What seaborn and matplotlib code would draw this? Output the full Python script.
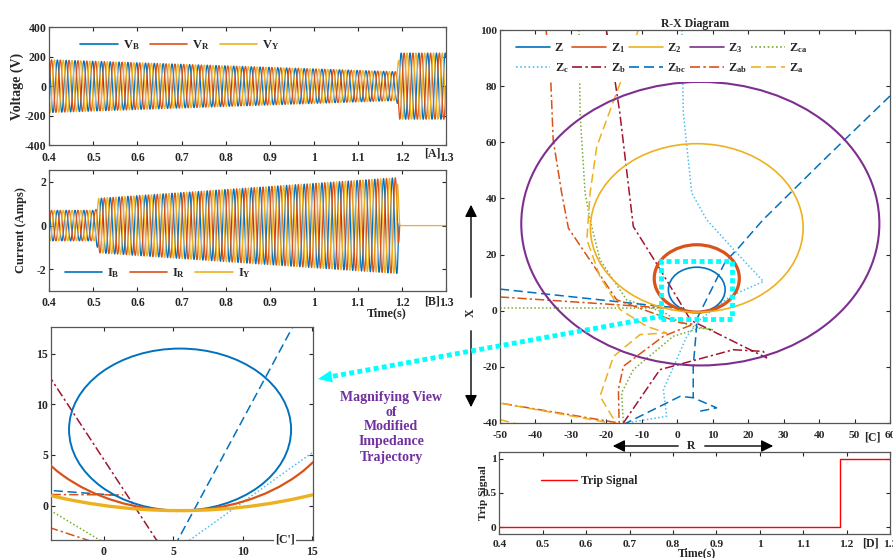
import numpy as np
import pandas as pd
import matplotlib
matplotlib.use("Agg")
import matplotlib.pyplot as plt
import seaborn as sns
from matplotlib.lines import Line2D
from matplotlib.patches import Circle, Rectangle, Polygon, FancyArrowPatch

W, H = 893, 558

# ---------------- data ----------------
freq_hz = 50
phase_names = ["B", "R", "Y"]
phase_deg = [120, 0, -120]
phase_colors = ["#0072BD", "#D95319", "#EDB120"]

v_env_t = [0.40, 1.188, 1.195, 1.30]
v_env_amp = [180, 98, 225, 225]
i_env_t = [0.40, 0.505, 0.512, 1.190, 1.195, 1.30]
i_env_amp = [0.70, 0.70, 1.25, 2.20, 0.0, 0.0]
i_end_t = [1.195, 1.195, 1.30]   # B, R traces stop at the trip; Y stays drawn at 0

trip_t = [0.40, 1.185, 1.185, 1.30]
trip_v = [0, 0, 1, 1]

time_ticks = [0.4, 0.5, 0.6, 0.7, 0.8, 0.9, 1.0, 1.1, 1.2, 1.3]
time_labels = ["0.4", "0.5", "0.6", "0.7", "0.8", "0.9", "1", "1.1", "1.2", "1.3"]

circle_names = ["Z", "Z1", "Z2", "Z3"]
circle_cx = [5.5, 5.5, 5.5, 6.5]
circle_cy = [7.5, 11.5, 29.5, 31.0]
circle_r = [8.0, 12.0, 30.0, 50.5]
circle_colors = ["#0072BD", "#D95319", "#EDB120", "#7E2F8E"]

zca_x = [-27.7, -27.4, -26.0, -24.6, -21.8, -14.3, -3.7, -0.3, 4.0, 10.2, 6.4, -1.1, -12.4, -15.7, -15.2]
zca_y = [100, 70, 41.9, 32.4, 18.1, 3.9, -0.6, -3.4, -5.5, -6.8, -6.2, -9.1, -21.0, -29.3, -40.0]
zca2_x = [-50, -4.0]
zca2_y = [1.0, 1.0]

zc_x = [1.3, 1.7, 4.1, 8.3, 17.7, 24.3, 15.1, 6.2, 2.7, -3.9, -3.0, -14.3]
zc_y = [100, 70.4, 41.9, 32.4, 19.3, 10.4, 5.3, -3.4, -9.1, -28.1, -37.6, -40.0]

zb_x = [-20.0, -17.6, -16.2, -12.4, -5.8, 3.8, 25.2, 24.3, 15.8, -4.9, -15.2]
zb_y = [100, 82.2, 70.4, 30.0, 16.7, -3.4, -16.8, -14.5, -13.9, -21.0, -40.0]

zbc1_x = [-50, -4.9, 1.0]
zbc1_y = [7.7, 1.6, 1.0]
zbc2_x = [60, 42.2, 24.2, 17.0, 13.6, 5.3, 5.5, 4.5, 4.5]
zbc2_y = [76.5, 54.8, 32.4, 22.0, 17.6, -3.5, -5.0, -19.8, -31.0]
zbc3_x = [-15.3, 0.8, 4.5, 11.1, 6.4]
zbc3_y = [-40.6, -30.5, -31.0, -34.6, -35.8]

zab1_x = [-37.0, -35.7, -35.0, -32.6, -30.7, -17.1, -9.6, 0.8, 4.5, -3.9, -15.2, -16.6, -16.4, -50]
zab1_y = [100, 82.8, 60.9, 41.9, 29.4, 3.9, 0.4, -4.3, -4.8, -9.1, -19.8, -28.1, -40.0, -32.9]
zab2_x = [-50, -4.9, 1.4]
zab2_y = [4.9, 1.1, 1.05]

za1_x = [-11.0, -15.7, -22.7, -24.6, -25.5, -21.8, -16.1, -8.6, -3.0, -10.5, -18.0, -21.8, -17.1, -50]
za1_y = [100, 82.5, 58.5, 41.9, 25.3, 12.2, 0.4, -5.6, -7.9, -8.5, -16.3, -30.5, -40.4, -32.9]
za2_x = [-50, -44.4]
za2_y = [-38.8, -40.6]

rx_xticks = [-50, -40, -30, -20, -10, 0, 10, 20, 30, 40, 50, 60]
rx_yticks = [-40, -20, 0, 20, 40, 60, 80, 100]

# ---------------- style ----------------
sns.set_style("ticks")
plt.rcParams["font.family"] = ["Liberation Serif", "DejaVu Serif"]
plt.rcParams["font.weight"] = "bold"
plt.rcParams["axes.labelweight"] = "bold"
plt.rcParams["axes.titleweight"] = "bold"
plt.rcParams["axes.unicode_minus"] = False
plt.rcParams["mathtext.fontset"] = "custom"
plt.rcParams["mathtext.rm"] = "Liberation Serif:bold"
plt.rcParams["mathtext.it"] = "Liberation Serif:bold"
plt.rcParams["mathtext.bf"] = "Liberation Serif:bold"
plt.rcParams["mathtext.default"] = "rm"

fig = plt.figure(figsize=(W / 100, H / 100), dpi=100)
fig.patch.set_facecolor("white")


def add_ax(l, t, r, b):
    return fig.add_axes([l / W, 1 - b / H, (r - l) / W, (b - t) / H])


def matlab(ax, fs=8.5, xpad=4.5):
    ax.tick_params(direction="in", top=True, right=True, length=3, width=0.8,
                   colors="#262626", labelsize=fs, pad=2)
    ax.tick_params(axis="x", pad=xpad)
    for s in ax.spines.values():
        s.set_color("#555555")
        s.set_linewidth(0.9)
    ax.set_xlabel("")
    ax.set_ylabel("")


def fpx(x, y):
    return (x / W, 1 - y / H)


def ftext(x, y, s, **kw):
    fig.text(x / W, 1 - y / H, s, **kw)


# ---------------- waveforms ----------------
t = np.arange(0.4, 1.3001, 0.0002)
rows_v, rows_i = [], []
for name, deg, t_end in zip(phase_names, phase_deg, i_end_t):
    carrier = np.sin(2 * np.pi * freq_hz * t + np.deg2rad(deg))
    rows_v.append(pd.DataFrame({"t": t, "val": np.interp(t, v_env_t, v_env_amp) * carrier, "phase": name}))
    keep = t <= t_end
    rows_i.append(pd.DataFrame({"t": t[keep],
                                "val": (np.interp(t, i_env_t, i_env_amp) * carrier)[keep],
                                "phase": name}))
dfV = pd.concat(rows_v, ignore_index=True)
dfI = pd.concat(rows_i, ignore_index=True)
pal = dict(zip(phase_names, phase_colors))

# Panel A
axA = add_ax(49.3, 27.3, 446, 145)
sns.lineplot(data=dfV, x="t", y="val", hue="phase", palette=pal, ax=axA,
             estimator=None, sort=False, legend=False, lw=0.9)
matlab(axA, xpad=5)
axA.set_xlim(0.4, 1.3)
axA.set_ylim(-400, 400)
axA.set_yticks([-400, -200, 0, 200, 400])
axA.set_xticks(time_ticks)
axA.set_xticklabels(time_labels)
axA.set_ylabel("Voltage (V)", fontsize=10, labelpad=1)
hA = [Line2D([], [], color=c, lw=1.2) for c in phase_colors]
axA.legend(hA, ["V$_B$", "V$_R$", "V$_Y$"], loc="upper left", ncol=3, frameon=False,
           fontsize=9, handlelength=3.0, handletextpad=0.4, columnspacing=0.8,
           bbox_to_anchor=(0.05, 1.0))

# Panel B
axB = add_ax(49.3, 170, 446, 291)
sns.lineplot(data=dfI, x="t", y="val", hue="phase", palette=pal, ax=axB,
             estimator=None, sort=False, legend=False, lw=0.9)
matlab(axB, xpad=4.5)
axB.set_xlim(0.4, 1.3)
axB.set_ylim(-3, 2.55)
axB.set_yticks([-2, 0, 2])
axB.set_xticks(time_ticks)
axB.set_xticklabels(time_labels)
axB.set_ylabel("Current (Amps)", fontsize=9, labelpad=7)
axB.legend(hA, ["I$_B$", "I$_R$", "I$_Y$"], loc="lower left", ncol=3, frameon=False,
           fontsize=9, handlelength=3.0, handletextpad=0.4, columnspacing=0.8,
           bbox_to_anchor=(0.01, 0.0))

# ---------------- impedance trajectories ----------------
dashed = (0, (6, 3))
dashdot = (0, (6, 2, 1.5, 2))
dotted = (0, (1, 1.5))
traj = [
    (zca_x, zca_y, "#77AC30", dotted), (zca2_x, zca2_y, "#77AC30", dotted),
    (zc_x, zc_y, "#4DBEEE", dotted),
    (zb_x, zb_y, "#A2142F", dashdot),
    (zbc1_x, zbc1_y, "#0072BD", dashed), (zbc2_x, zbc2_y, "#0072BD", dashed),
    (zbc3_x, zbc3_y, "#0072BD", dashed),
    (zab1_x, zab1_y, "#D95319", dashdot), (zab2_x, zab2_y, "#D95319", dashdot),
    (za1_x, za1_y, "#EDB120", dashed), (za2_x, za2_y, "#EDB120", dashed),
]


def draw_rx(ax, circ_lw, traj_lw):
    for cx, cy, r, c, lw in zip(circle_cx, circle_cy, circle_r, circle_colors, circ_lw):
        ax.add_patch(Circle((cx, cy), r, fill=False, edgecolor=c, lw=lw, zorder=3))
    for xs, ys, c, ls in traj:
        sns.lineplot(x=xs, y=ys, ax=ax, sort=False, estimator=None, color=c,
                     linestyle=ls, lw=traj_lw, legend=False)


# Panel C
axC = add_ax(500, 30, 890, 423)
draw_rx(axC, [1.2, 2.3, 1.2, 1.5], 1.1)
matlab(axC, fs=8.2, xpad=6)
axC.set_xlim(-50, 60)
axC.set_ylim(-40, 100)
axC.set_xticks(rx_xticks)
axC.set_yticks(rx_yticks)
axC.set_title("R-X Diagram", fontsize=8.5, pad=2)
axC.add_patch(Rectangle((-4.5, -2.8), 19.9, 20.6, fill=False, edgecolor="#00FFFF",
                        lw=3.5, linestyle=(0, (1, 0.7)), zorder=6))
leg_names = ["Z", "Z$_1$", "Z$_2$", "Z$_3$", "Z$_{ca}$", "Z$_c$", "Z$_b$", "Z$_{bc}$", "Z$_{ab}$", "Z$_a$"]
leg_handles = [Line2D([], [], color=c, lw=1.2) for c in circle_colors] + [
    Line2D([], [], color="#77AC30", lw=1.2, linestyle=dotted),
    Line2D([], [], color="#4DBEEE", lw=1.2, linestyle=dotted),
    Line2D([], [], color="#A2142F", lw=1.2, linestyle=dashdot),
    Line2D([], [], color="#0072BD", lw=1.2, linestyle=dashed),
    Line2D([], [], color="#D95319", lw=1.2, linestyle=dashdot),
    Line2D([], [], color="#EDB120", lw=1.2, linestyle=dashed),
]
order = [0, 5, 1, 6, 2, 7, 3, 8, 4, 9]
legC = axC.legend([leg_handles[i] for i in order], [leg_names[i] for i in order],
                  ncol=5, loc="upper left", bbox_to_anchor=fpx(510, 35),
                  bbox_transform=fig.transFigure, borderaxespad=0, fontsize=8.8,
                  frameon=True, facecolor="white", edgecolor="none", framealpha=1,
                  handlelength=2.8, handletextpad=0.35, columnspacing=0.3,
                  labelspacing=0.55, borderpad=0.5)
legC.set_zorder(10)

# Panel C' (magnified)
axM = add_ax(51, 327.3, 313.3, 540)
draw_rx(axM, [1.4, 1.6, 2.4, 1.4], 1.1)
matlab(axM, xpad=4.5)
axM.set_xlim(-3.8, 15.1)
axM.set_ylim(-3.4, 17.6)
axM.set_xticks([0, 5, 10, 15])
axM.set_yticks([0, 5, 10, 15])

# Panel D
axD = add_ax(499.3, 451.7, 890, 534)
sns.lineplot(x=trip_t, y=trip_v, ax=axD, sort=False, estimator=None, color="#FF0000",
             lw=1.0, legend=False)
matlab(axD, fs=8.2, xpad=4.5)
axD.set_xlim(0.4, 1.3)
axD.set_ylim(-0.1, 1.1)
axD.set_yticks([0, 0.5, 1])
axD.set_yticklabels(["0", "0.5", "1"])
axD.set_xticks(time_ticks)
axD.set_xticklabels(time_labels)
axD.set_ylabel("Trip Signal", fontsize=8.2, labelpad=-4)
axD.legend([Line2D([], [], color="#FF0000", lw=1.0)], ["Trip Signal"], loc="upper left",
           frameon=False, fontsize=8.5, handlelength=3.0, handletextpad=0.4,
           bbox_to_anchor=(0.08, 0.85))

# ---------------- annotations ----------------
ftext(387, 313, "Time(s)", ha="center", va="center", fontsize=8.8)
ftext(697, 553, "Time(s)", ha="center", va="center", fontsize=8.5)
ftext(432, 153, "[A]", ha="center", va="center", fontsize=8.5)
ftext(432, 302, "[B]", ha="center", va="center", fontsize=8.5)
ftext(872, 437, "[C]", ha="center", va="center", fontsize=8.5)
ftext(870, 543, "[D]", ha="center", va="center", fontsize=8.5)
ftext(285, 539, "[C']", ha="center", va="center", fontsize=8.5,
      bbox=dict(facecolor="white", edgecolor="none", pad=0.5))
ftext(391, 427, "Magnifying View\nof\nModified\nImpedance\nTrajectory", ha="center",
      va="center", fontsize=10, color="#7030A0", linespacing=1.2)

# X axis double arrow
arrow_kw = dict(arrowstyle="-|>,head_length=0.6,head_width=0.3", color="black", lw=1.0)
fig.add_artist(FancyArrowPatch(fpx(471, 300), fpx(471, 202),
               transform=fig.transFigure, mutation_scale=12, **arrow_kw))
fig.add_artist(FancyArrowPatch(fpx(471, 328), fpx(471, 410),
               transform=fig.transFigure, mutation_scale=12, **arrow_kw))
ftext(471, 313, "X", ha="center", va="center", rotation=90, fontsize=8.5)
# R axis double arrow
fig.add_artist(FancyArrowPatch(fpx(681, 446), fpx(610, 446),
               transform=fig.transFigure, mutation_scale=12, **arrow_kw))
fig.add_artist(FancyArrowPatch(fpx(702, 446), fpx(776, 446),
               transform=fig.transFigure, mutation_scale=12, **arrow_kw))
ftext(691, 446, "R", ha="center", va="center", fontsize=8.5)

# cyan magnifier arrow
tail = np.array([663.0, 316.0])
tip = np.array([318.0, 379.0])
d = (tip - tail) / np.linalg.norm(tip - tail)
nrm = np.array([-d[1], d[0]])
base = tip - 14 * d
fig.add_artist(Line2D([fpx(*tail)[0], fpx(*base)[0]], [fpx(*tail)[1], fpx(*base)[1]],
                      transform=fig.transFigure, color="#00FFFF", lw=3.5,
                      linestyle=(0, (1, 0.7)), zorder=20))
head = [fpx(*tip), fpx(*(base + 6 * nrm)), fpx(*(base - 6 * nrm))]
fig.add_artist(Polygon(head, closed=True, transform=fig.transFigure, facecolor="#00FFFF",
                       edgecolor="none", zorder=20))

fig.savefig("out.png", dpi=100, facecolor="white")
